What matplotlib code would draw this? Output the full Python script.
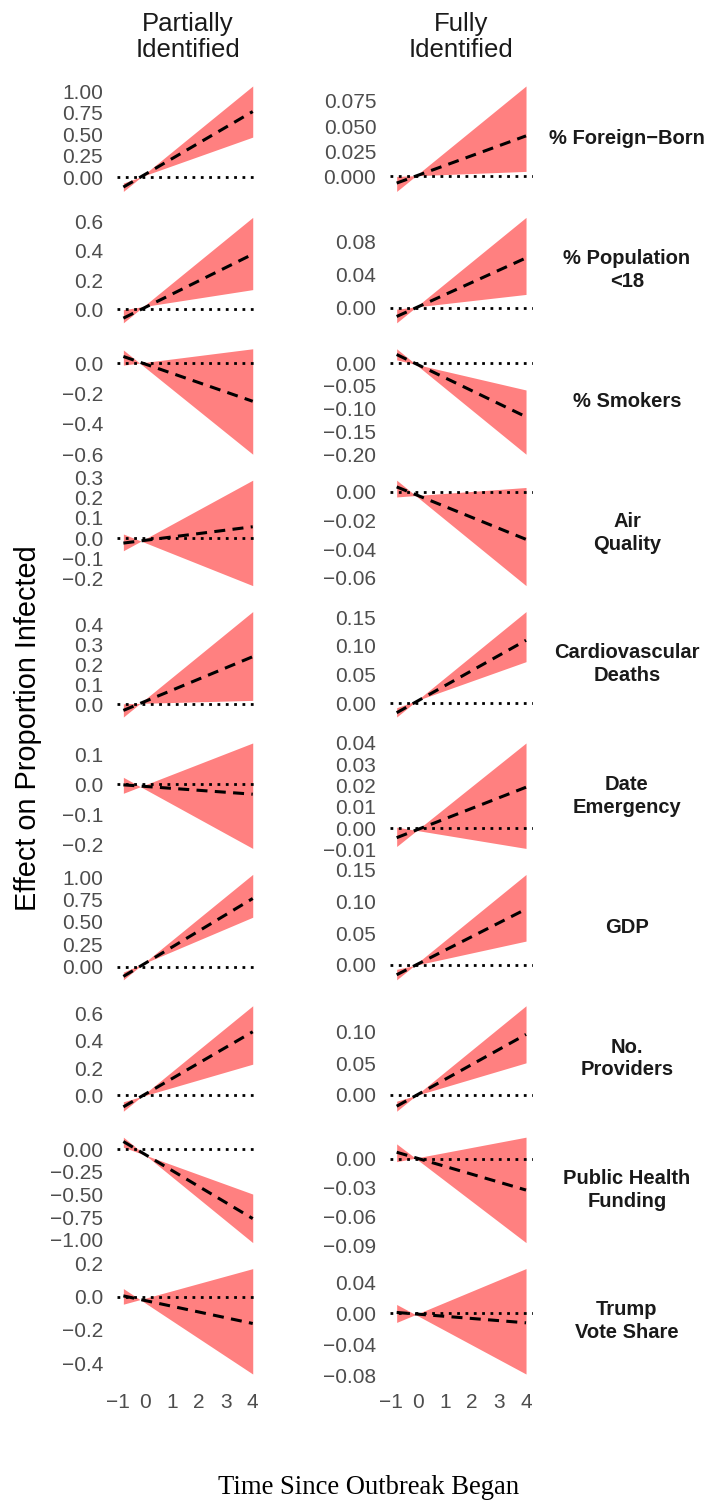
import matplotlib.pyplot as plt
import numpy as np

plt.rcParams['font.family'] = ['Liberation Sans', 'DejaVu Sans']

# time points where the effect lines start and end
time = [-0.8, 4]

variables = ["% Foreign\u2212Born", "% Population\n<18", "% Smokers", "Air\nQuality",
             "Cardiovascular\nDeaths", "Date\nEmergency", "GDP", "No.\nProviders",
             "Public Health\nFunding", "Trump\nVote Share"]
columns = ["Partially\nIdentified", "Fully\nIdentified"]

# [value at start, value at end] for every variable
partial_est = [[-0.117, 0.766], [-0.062, 0.377], [0.046, -0.25], [-0.025, 0.056],
               [-0.03, 0.238], [-0.002, -0.033], [-0.108, 0.761], [-0.083, 0.466],
               [0.085, -0.767], [0.004, -0.162]]
partial_upper = [[-0.168, 1.065], [-0.094, 0.630], [-0.011, 0.097], [-0.063, 0.287],
                 [-0.063, 0.463], [-0.03, 0.137], [-0.146, 1.03], [-0.115, 0.656],
                 [0.022, -0.496], [-0.046, 0.168]]
partial_lower = [[-0.07, 0.467], [-0.004, 0.134], [0.089, -0.600], [0.02, -0.236],
                 [0.003, 0.02], [0.023, -0.213], [-0.06, 0.552], [-0.046, 0.229],
                 [0.133, -1.033], [0.048, -0.466]]

full_est = [[-0.0066, 0.0403], [-0.0106, 0.0605], [0.0192, -0.1177], [0.0035, -0.0331],
            [-0.0163, 0.110], [-0.0043, 0.0192], [-0.0153, 0.0874], [-0.0179, 0.0953],
            [0.007, -0.0324], [0.0009, -0.0125]]
full_upper = [[-0.0149, 0.0899], [-0.0183, 0.1098], [0.0074, -0.0588], [-0.0035, 0.0031],
              [-0.0238, 0.160], [-0.0084, 0.0398], [-0.0232, 0.1416], [-0.0258, 0.1405],
              [-0.0028, 0.0227], [-0.012, 0.0576]]
full_lower = [[0.000, 0.005], [-0.0017, 0.0162], [0.0318, -0.200], [0.0082, -0.0654],
              [-0.0076, 0.0727], [0.0006, -0.0093], [-0.0068, 0.0374], [-0.010, 0.0505],
              [0.0157, -0.0872], [0.0112, -0.0787]]

partial_yticks = [[0, 0.25, 0.5, 0.75, 1.0], [0, 0.2, 0.4, 0.6], [-0.6, -0.4, -0.2, 0.0],
                  [-0.2, -0.1, 0, 0.1, 0.2, 0.3], [0, 0.1, 0.2, 0.3, 0.4], [-0.2, -0.1, 0, 0.1],
                  [0, 0.25, 0.5, 0.75, 1.0], [0, 0.2, 0.4, 0.6],
                  [-1.0, -0.75, -0.5, -0.25, 0], [-0.4, -0.2, 0, 0.2]]
partial_digits = [2, 1, 1, 1, 1, 1, 2, 1, 2, 1]
full_yticks = [[0, 0.025, 0.05, 0.075], [0, 0.04, 0.08], [-0.2, -0.15, -0.1, -0.05, 0],
               [-0.06, -0.04, -0.02, 0], [0, 0.05, 0.1, 0.15], [-0.01, 0, 0.01, 0.02, 0.03, 0.04],
               [0, 0.05, 0.1, 0.15], [0, 0.05, 0.1], [-0.09, -0.06, -0.03, 0], [-0.08, -0.04, 0, 0.04]]
full_digits = [3, 2, 2, 2, 2, 2, 2, 2, 2, 2]

xticks = [-1, 0, 1, 2, 3, 4]

W, H = 711, 1502
fig = plt.figure(figsize=(W / 100, H / 100), dpi=100)

col_left = [116.9, 390.2]
panel_w = 142.3
panel_h = 116
row_top0 = 80.7
row_step = 131.4

data = [(partial_est, partial_upper, partial_lower, partial_yticks, partial_digits),
        (full_est, full_upper, full_lower, full_yticks, full_digits)]

for j, (est, upper, lower, yticks, digits) in enumerate(data):
    for i in range(len(variables)):
        top = row_top0 + i * row_step
        ax = fig.add_axes([col_left[j] / W, 1 - (top + panel_h) / H, panel_w / W, panel_h / H])
        ax.fill_between(time, lower[i], upper[i], color='#FF8080', lw=0)
        ax.axhline(0, color='black', lw=2, linestyle=(0, (1, 2)))
        ax.plot(time, est[i], color='black', lw=2.2, linestyle=(0, (3.6, 2.4)))

        vals = est[i] + upper[i] + lower[i] + [0]
        lo, hi = min(vals), max(vals)
        pad = 0.05 * (hi - lo)
        ax.set_ylim(lo - pad, hi + pad)
        span = time[1] - time[0]
        ax.set_xlim(time[0] - 0.05 * span, time[1] + 0.05 * span)

        ax.set_yticks(yticks[i])
        ax.set_yticklabels([f"{v:.{digits[i]}f}".replace('-', '\u2212') for v in yticks[i]])
        if i == len(variables) - 1:
            ax.set_xticks(xticks)
            ax.set_xticklabels([str(v).replace('-', '\u2212') for v in xticks])
        else:
            ax.set_xticks([])
        ax.tick_params(length=0, labelsize=15, labelcolor='#4D4D4D', pad=10)
        for s in ax.spines.values():
            s.set_visible(False)
        ax.patch.set_alpha(0)

        if i == 0:
            fig.text((col_left[j] + panel_w / 2) / W, 1 - 37 / H, columns[j],
                     ha='center', va='center', fontsize=18.5, color='#1A1A1A', linespacing=1.1)
        if j == 1:
            fig.text(627 / W, 1 - (top + panel_h / 2) / H, variables[i], ha='center', va='center',
                     fontsize=14.5, fontweight='bold', color='#1A1A1A', linespacing=1.25)

fig.text(28 / W, 1 - 728 / H, "Effect on Proportion Infected", rotation=90,
         ha='center', va='center', fontsize=20.8, color='black')
fig.text(369 / W, 1 - 1487 / H, "Time Since Outbreak Began", ha='center', va='center',
         fontsize=19.2, family=['Liberation Serif', 'DejaVu Serif'], color='black')

fig.savefig('out.png', dpi=100, facecolor='white')
